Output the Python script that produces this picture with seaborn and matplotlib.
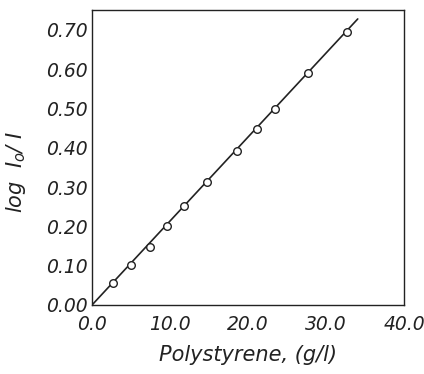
import matplotlib
matplotlib.use("Agg")
import matplotlib.pyplot as plt
import seaborn as sns
import pandas as pd

# data
polystyrene = [2.73, 4.96, 7.39, 9.66, 11.75, 14.79, 18.59, 21.11, 23.5, 27.74, 32.65]
log_ratio = [0.055, 0.102, 0.147, 0.202, 0.253, 0.314, 0.393, 0.448, 0.500, 0.591, 0.695]
fit_x = [0.0, 34.06]
fit_y = [0.0, 0.728]
x_ticks = [0, 10, 20, 30, 40]
x_ticklabels = ["0.0", "10.0", "20.0", "30.0", "40.0"]
y_ticks = [0.0, 0.1, 0.2, 0.3, 0.4, 0.5, 0.6, 0.7]
y_ticklabels = ["0.00", "0.10", "0.20", "0.30", "0.40", "0.50", "0.60", "0.70"]

sns.set_style("white")
plt.rcParams['font.family'] = ['DejaVu Sans']

fig = plt.figure(figsize=(4.24, 3.74), dpi=100)
ax = fig.add_axes([0.217, 0.1845, 0.736, 0.789])

pts = pd.DataFrame({"x": polystyrene, "y": log_ratio})
fit = pd.DataFrame({"x": fit_x, "y": fit_y})

sns.lineplot(data=fit, x="x", y="y", ax=ax, color="#222222", linewidth=1.2)
sns.scatterplot(data=pts, x="x", y="y", ax=ax, marker="o", s=30,
                facecolor="white", edgecolor="#222222", linewidth=1.0, zorder=3)

ax.set_xlim(0, 40)
ax.set_ylim(0, 0.751)
ax.set_xticks(x_ticks)
ax.set_xticklabels(x_ticklabels, fontsize=13.5, fontstyle="italic", color="#222222")
ax.set_yticks(y_ticks)
ax.set_yticklabels(y_ticklabels, fontsize=13.5, fontstyle="italic", color="#222222")
ax.tick_params(axis="both", direction="in", length=6, width=1, color="#222222", pad=3)
ax.tick_params(axis="x", pad=7)
for s in ax.spines.values():
    s.set_color("#222222")
    s.set_linewidth(1.0)
    s.set_visible(True)

ax.set_xlabel("Polystyrene, (g/l)", fontsize=15, fontstyle="italic", color="#222222", labelpad=8)
ax.set_ylabel(r"log  I$_\mathit{o}$/ I", fontsize=15, fontstyle="italic", color="#222222")
ax.yaxis.set_label_coords(-0.205, 0.45)

fig.savefig("out.png", dpi=100)
